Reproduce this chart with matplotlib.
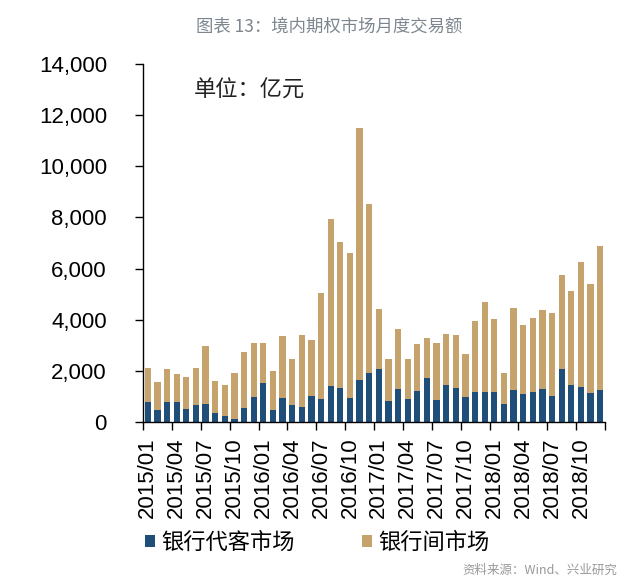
import matplotlib
matplotlib.use("Agg")
import matplotlib.pyplot as plt
from matplotlib.patches import Patch
import numpy as np

months = [f"{y}/{m:02d}" for y in range(2015, 2019) for m in range(1, 13)]

# 银行代客市场 (亿元)
client = [780, 460, 780, 770, 510, 650, 690, 370, 240, 100, 560, 970,
          1540, 460, 920, 650, 600, 1020, 880, 1420, 1320, 920, 1650, 1910,
          2070, 820, 1300, 900, 1210, 1710, 850, 1440, 1340, 980, 1160, 1160,
          1160, 720, 1240, 1080, 1160, 1300, 1030, 2060, 1440, 1380, 1120, 1240]
# 银行间市场 (亿元)
interbank = [1340, 1110, 1300, 1110, 1250, 1470, 2280, 1250, 1210, 1830, 2190, 2130,
             1560, 1530, 2450, 1830, 2810, 2180, 4170, 6500, 5700, 5690, 9850, 6630,
             2330, 1630, 2330, 1550, 1830, 1560, 2230, 1990, 2050, 1660, 2780, 3540,
             2860, 1200, 3200, 2720, 2910, 3080, 3220, 3670, 3670, 4880, 4290, 5650]

series_names = ["银行代客市场", "银行间市场"]
yticks = [0, 2000, 4000, 6000, 8000, 10000, 12000, 14000]

BLUE = "#1F4E79"
TAN = "#C6A26D"
CJK = ["Noto Sans CJK SC", "DejaVu Sans"]
NUM = ["Liberation Sans", "DejaVu Sans"]

fig = plt.figure(figsize=(6.4, 5.85), dpi=100)
W, H = 640, 585
ax = fig.add_axes([143 / W, 1 - 422 / H, (605 - 143) / W, (422 - 64) / H])

x = np.arange(len(months))
ax.bar(x, client, width=0.65, color=BLUE, label=series_names[0], zorder=2)
ax.bar(x, interbank, width=0.65, bottom=client, color=TAN, label=series_names[1], zorder=2)

ax.set_xlim(-0.5, len(months) - 0.5)
ax.set_ylim(0, 14000)

for s in ["top", "right"]:
    ax.spines[s].set_visible(False)
for s in ["left", "bottom"]:
    ax.spines[s].set_color("black")
    ax.spines[s].set_linewidth(1.0)

ax.set_yticks(yticks)
ax.set_yticklabels([f"{v:,}" for v in yticks], fontfamily=NUM, fontsize=16)
ax.tick_params(axis="y", direction="out", length=6, width=1, pad=20)

lab_pos = x[::3]
ax.set_xticks(lab_pos)
ax.set_xticklabels([months[i] for i in lab_pos], rotation=90, fontfamily=NUM, fontsize=16)
ax.set_xticks(np.arange(-0.5, len(months), 3), minor=True)
ax.tick_params(axis="x", which="major", length=0, pad=11)
ax.tick_params(axis="x", which="minor", direction="out", length=6, width=1)

ax.text(0.11, 0.927, "单位：亿元", transform=ax.transAxes, fontfamily=CJK,
        fontsize=16, color="#222222", va="center", ha="left")

fig.text(329 / W, 1 - 27 / H, "图表 13：境内期权市场月度交易额", fontfamily=CJK,
         fontsize=12.5, color="#7d868f", ha="center", va="center")

handles = [Patch(facecolor=BLUE), Patch(facecolor=TAN)]
fig.legend(handles, series_names, loc="center left",
           bbox_to_anchor=(145 / W, 1 - 542 / H), ncol=2, frameon=False,
           prop={"family": CJK, "size": 16}, handlelength=0.45, handleheight=0.45,
           handletextpad=0.3, columnspacing=3.0, borderpad=0, borderaxespad=0)

fig.text(617 / W, 1 - 570 / H, "资料来源：Wind、兴业研究", fontfamily=CJK,
         fontsize=9, color="#999999", ha="right", va="center")

fig.savefig("out.png", dpi=100)
